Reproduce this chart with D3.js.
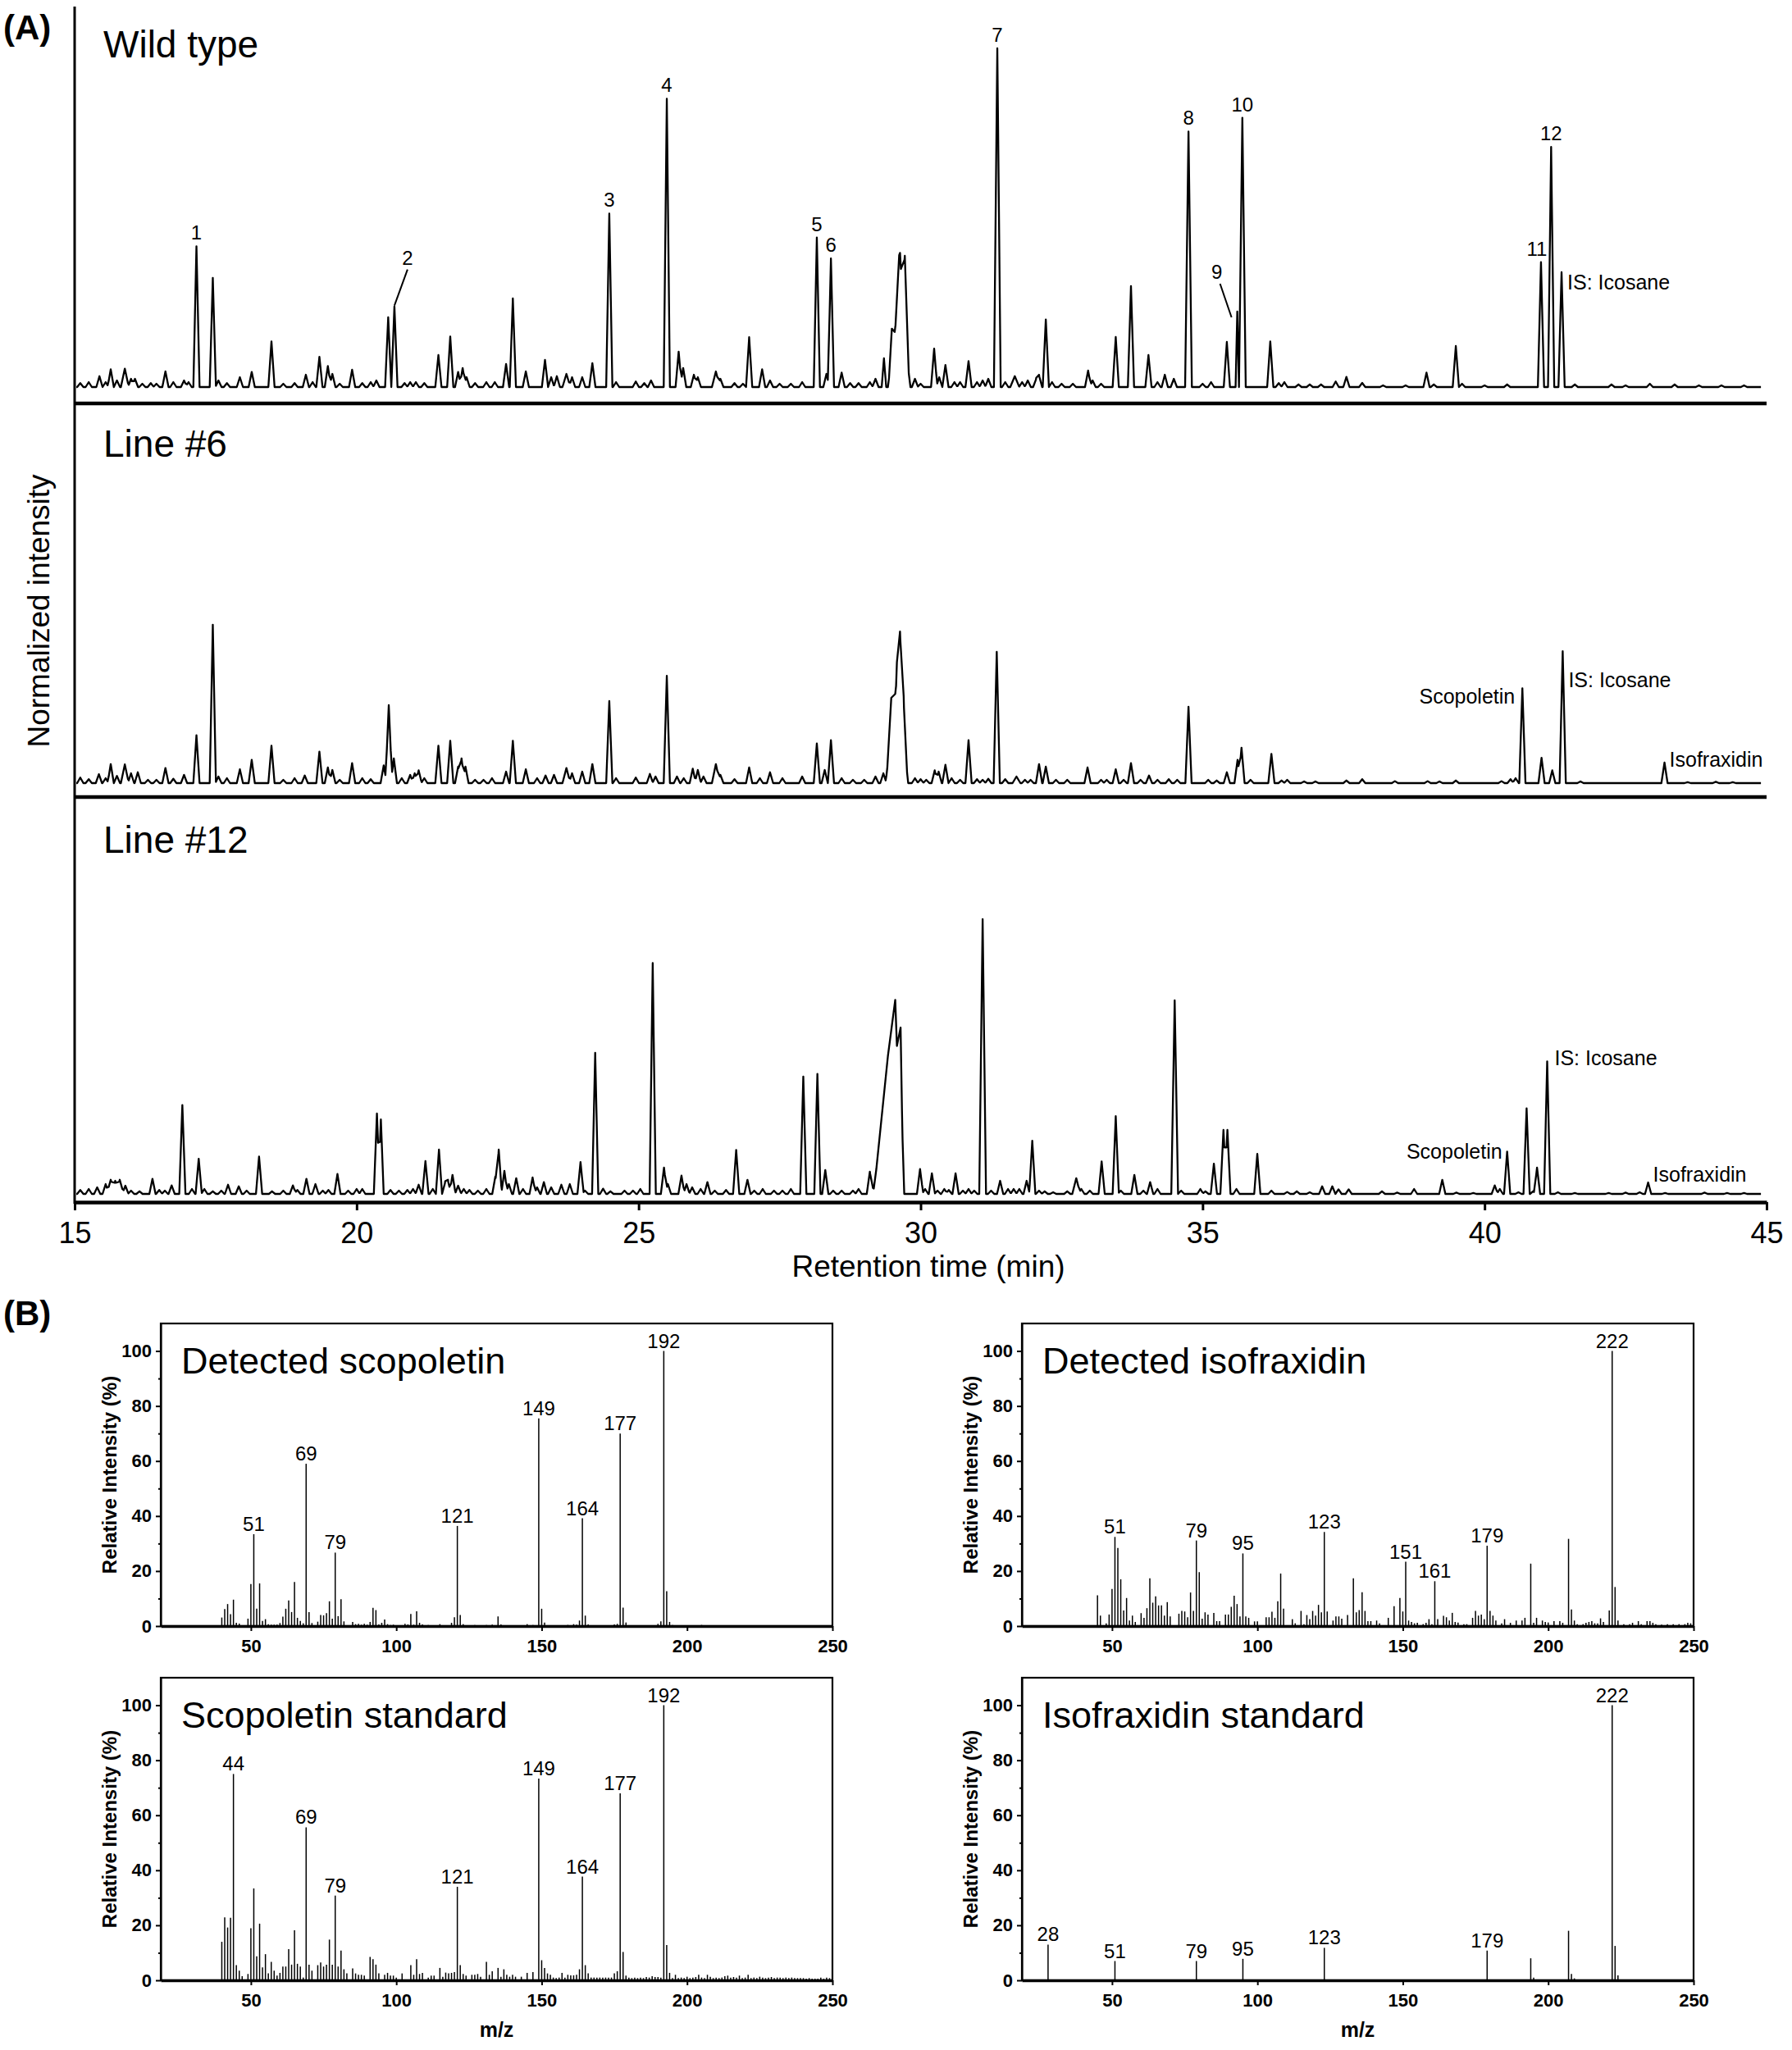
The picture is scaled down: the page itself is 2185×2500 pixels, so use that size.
<!DOCTYPE html>
<html>
<head>
<meta charset="utf-8">
<script src="https://cdn.jsdelivr.net/npm/d3@7"></script>
<style>
  body { margin: 0; background: #fff; }
  svg { display: block; }
</style>
</head>
<body>
<script>
// ---------- data: panel A (GC chromatograms) ----------
// each peak: [retention time (min), height (normalized), half base width (min, optional)]
const rtTicks = [15, 20, 25, 30, 35, 40, 45]

const wildTypePeaks = [
  [15.1, 1.2], [15.25, 1.5], [15.44, 3.3], [15.55, 1.5], [15.64, 5.4], [15.75, 2], [15.89, 5.6, 0.07], [16.0, 2.5], [16.07, 2.5], [16.2, 1], [16.35, 1.2], [16.45, 1], [16.61, 4.75], [16.75, 1.5], [16.94, 2], [17.02, 1.5],
  [17.16, 42.9], [17.45, 33.3], [17.55, 2], [17.7, 1.2], [17.93, 3], [18.14, 4.6], [18.49, 13.9],
  [18.7, 1], [18.9, 1.2], [19.1, 3.75], [19.22, 1.5], [19.34, 9.2], [19.49, 6.4], [19.57, 4], [19.7, 1], [19.92, 5.25],
  [20.1, 1.2], [20.25, 1.5], [20.35, 2], [20.56, 21.25], [20.67, 24.6], [20.85, 1.2], [20.95, 1.5], [21.05, 1.5], [21.2, 1.2],
  [21.45, 9.75], [21.66, 15.4], [21.8, 4.6], [21.88, 5.8], [21.95, 3], [22.1, 1.2], [22.3, 1.5], [22.45, 1.5],
  [22.65, 7], [22.77, 27], [23.0, 4.75], [23.34, 8.3], [23.45, 3], [23.55, 3.3], [23.72, 4, 0.07], [23.82, 3], [24.0, 3], [24.18, 7.25],
  [24.48, 52.9], [24.6, 1.5], [24.95, 1.7], [25.1, 1.2], [25.22, 2], [25.5, 87.9], [25.71, 10.8], [25.79, 5.8], [25.98, 3.75], [26.05, 3], [26.37, 4.75, 0.07], [26.45, 2.5],
  [26.7, 1.2], [26.85, 1], [26.96, 15.2], [27.19, 5.4], [27.33, 2], [27.5, 1], [27.7, 1], [27.9, 1.5],
  [28.16, 45.6], [28.33, 4], [28.41, 39.2], [28.6, 4.4], [28.75, 1.2], [28.9, 1.2], [29.1, 1.5], [29.2, 2.5],
  [29.35, 8.75, 0.04], [29.62, 28, 0.2], [29.49, 8, 0.05], [29.635, 15, 0.08], [29.72, 26, 0.07],
  [29.9, 2.5], [30.0, 1], [30.24, 11.7], [30.33, 3], [30.44, 6.7], [30.6, 1.5], [30.7, 1.5], [30.85, 7.9], [31.0, 1.5], [31.1, 2], [31.2, 2.5],
  [31.36, 103.3, 0.06], [31.5, 1.5], [31.67, 3.3, 0.08], [31.8, 1.5], [31.9, 2], [32.05, 2.5], [32.1, 3.5], [32.22, 20.6], [32.33, 1.5], [32.5, 1], [32.7, 1],
  [32.97, 5], [33.05, 2], [33.2, 1], [33.46, 15.25], [33.73, 30.8], [34.04, 9.75], [34.2, 1.5], [34.33, 3.75], [34.49, 2.5],
  [34.75, 77.9, 0.06], [35.0, 1], [35.15, 1.5], [35.43, 13.75], [35.615, 23, 0.03], [35.705, 82.1, 0.06],
  [36.2, 13.9], [36.35, 1.2], [36.45, 1.5], [36.7, 0.8], [36.9, 0.8], [37.1, 0.8], [37.36, 1.7], [37.55, 3.1], [37.83, 1.25],
  [38.2, 0.5], [38.6, 0.5], [38.97, 4.4], [39.1, 0.8], [39.49, 12.5], [39.6, 1], [40.0, 0.5], [40.4, 0.8],
  [41.0, 38.1], [41.18, 73.2], [41.365, 35], [41.6, 0.8], [42.25, 0.8], [42.5, 0.5], [42.93, 1], [43.37, 0.8], [43.8, 0.5], [44.2, 0.5], [44.6, 0.5]
]

const line6Peaks = [
  [15.1, 1.7], [15.25, 1.2], [15.43, 2.7], [15.55, 1.5], [15.64, 5.8], [15.75, 2.2], [15.89, 5.7, 0.07], [16.0, 3], [16.12, 3.3], [16.3, 1], [16.45, 1], [16.61, 4.6], [16.75, 1.3], [16.94, 2.5],
  [17.16, 14.6], [17.45, 48.3], [17.55, 2], [17.7, 1.5], [17.93, 4.2], [18.14, 7.1], [18.49, 11.4],
  [18.7, 1], [18.9, 1.5], [19.08, 2.3], [19.34, 9.6], [19.49, 4.75], [19.57, 4], [19.7, 1], [19.92, 6.1],
  [20.1, 1.5], [20.25, 1.2], [20.48, 5.4], [20.57, 23.75, 0.06], [20.66, 7.5], [20.8, 1.5], [20.95, 2.5], [21.03, 3], [21.1, 3.9], [21.2, 1.5],
  [21.45, 11.4], [21.66, 12.9], [21.8, 5], [21.86, 7.5], [21.93, 5], [22.1, 1], [22.25, 1], [22.4, 1.5],
  [22.65, 3.5], [22.77, 12.9], [23.0, 4.2], [23.2, 1.5], [23.35, 2.3], [23.5, 2.5], [23.72, 4.6, 0.07], [23.82, 3], [24.0, 3.5], [24.18, 5.8],
  [24.48, 25], [24.6, 1.5], [24.95, 1.7], [25.2, 2.8], [25.3, 2], [25.5, 32.7], [25.68, 2], [25.8, 1.5], [25.96, 4.4], [26.05, 4], [26.15, 2], [26.37, 5.8, 0.07], [26.45, 2.5],
  [26.7, 1.2], [26.96, 4.75], [27.15, 1.5], [27.33, 3.3], [27.55, 1.5], [27.9, 2],
  [28.16, 12.1], [28.3, 4], [28.41, 13.1], [28.6, 1.5], [28.8, 1], [29.0, 1], [29.2, 2], [29.34, 3],
  [29.58, 32, 0.2], [29.635, 23, 0.07], [29.48, 10, 0.07], [29.7, 12, 0.06],
  [29.9, 1.5], [30.0, 1.2], [30.1, 1], [30.25, 3.9], [30.32, 3.5], [30.44, 5.6], [30.55, 1.5], [30.7, 1], [30.85, 13.1], [31.0, 1.2], [31.1, 1], [31.2, 1.3],
  [31.35, 40], [31.5, 1.2], [31.7, 2, 0.07], [31.85, 1], [31.95, 1], [32.1, 5.8], [32.22, 5], [32.4, 1], [32.6, 1],
  [32.96, 4.75], [33.2, 1], [33.3, 1], [33.46, 4.2], [33.6, 1], [33.73, 6.1], [33.9, 1], [34.05, 2.3], [34.2, 1], [34.4, 1.2], [34.55, 1],
  [34.75, 23.3], [35.1, 1], [35.25, 0.8], [35.43, 3.3], [35.62, 7.1], [35.69, 10.8], [35.85, 1], [36.22, 8.9], [36.4, 0.8], [36.5, 1],
  [36.8, 0.5], [37.0, 0.5], [37.55, 0.8], [37.83, 1.2], [38.41, 0.6], [38.99, 0.6], [39.2, 0.5], [39.49, 0.8],
  [40.3, 0.6], [40.46, 1.2], [40.55, 1.5], [40.67, 28.9], [41.01, 7.7], [41.2, 3.9], [41.385, 40.2], [41.7, 0.5],
  [43.19, 6.25], [43.6, 0.3], [44.1, 0.4], [44.4, 0.3]
]

const line12Peaks = [
  [15.1, 1.2], [15.25, 1.5], [15.4, 2], [15.55, 3], [15.64, 4.3, 0.07], [15.72, 4, 0.07], [15.8, 4.3, 0.07], [15.9, 2.5], [16.0, 1], [16.15, 0.8],
  [16.38, 4.6], [16.5, 1.2], [16.6, 1], [16.72, 2.6], [16.91, 27.1], [17.08, 1.5], [17.2, 10.7], [17.3, 1.5], [17.45, 0.8], [17.6, 1], [17.72, 2.8], [17.91, 2.3], [18.05, 1],
  [18.27, 11.4], [18.5, 0.8], [18.7, 1], [18.87, 2.6], [18.95, 1.2], [19.11, 4.6], [19.27, 3], [19.4, 1], [19.5, 1.2], [19.66, 6.1], [19.85, 1], [20.0, 1.5], [20.1, 1.5],
  [20.36, 24.5], [20.43, 22.7, 0.05], [20.6, 1.2], [20.75, 1], [20.9, 1.2], [21.0, 1.5], [21.1, 2.8],
  [21.22, 10], [21.35, 1.5], [21.46, 13.5], [21.57, 3.5], [21.62, 4], [21.7, 5.8], [21.8, 2.5], [21.9, 1.5], [22.0, 1.2], [22.15, 1], [22.3, 1.5],
  [22.46, 5.3], [22.52, 13.5], [22.62, 7], [22.7, 3], [22.83, 4.8], [22.95, 1.5], [23.12, 5], [23.2, 2], [23.32, 3.6], [23.45, 2], [23.63, 2.8], [23.78, 3],
  [23.97, 9.7], [24.05, 1], [24.23, 43], [24.37, 1.6], [24.5, 0.8], [24.75, 1], [24.9, 1], [25.03, 1.5],
  [25.25, 70.4], [25.45, 8], [25.52, 3], [25.76, 5.6], [25.85, 3], [25.95, 2], [26.1, 1.5], [26.22, 3.6], [26.35, 1], [26.55, 1.2],
  [26.73, 13.4], [26.93, 4.3], [27.05, 1], [27.2, 1.5], [27.4, 1], [27.55, 1], [27.7, 1.5],
  [27.92, 35.8], [28.17, 36.6], [28.31, 7.3], [28.45, 1], [28.6, 1], [28.8, 1], [28.9, 1.5], [29.1, 6.8], [29.16, 2],
  [29.42, 42, 0.25], [29.55, 39, 0.13], [29.645, 36, 0.065],
  [29.99, 7.6], [30.08, 1.5], [30.2, 6.3], [30.3, 1], [30.42, 1.5], [30.5, 1.2], [30.62, 6.3], [30.75, 1], [30.85, 1.5], [30.95, 1],
  [31.1, 83.8, 0.06], [31.25, 1], [31.41, 4], [31.55, 1.5], [31.65, 1.5], [31.75, 1.5], [31.88, 4], [31.98, 16.2], [32.1, 1], [32.2, 0.8], [32.35, 0.5], [32.6, 0.8],
  [32.76, 4.8, 0.07], [32.85, 1.5], [33.0, 1], [33.21, 9.9], [33.46, 23.7], [33.55, 1], [33.79, 5.8], [33.95, 1], [34.07, 3.6], [34.2, 1.5],
  [34.505, 59, 0.06], [34.62, 1], [34.96, 1.5], [35.05, 0.8], [35.2, 9.2], [35.37, 19.5], [35.44, 19.5], [35.6, 1.5], [35.97, 12.2],
  [36.22, 1], [36.5, 0.6], [36.67, 0.8], [36.9, 0.5], [37.12, 2.3], [37.3, 2.3], [37.41, 1.4], [37.59, 1.4], [38.18, 0.8], [38.45, 0.4], [38.75, 1.5],
  [39.25, 4.3], [39.5, 0.4], [39.8, 0.3], [40.18, 2.6], [40.27, 1.5], [40.4, 12.9], [40.6, 0.5], [40.745, 26.1], [40.86, 0.8], [40.93, 8], [41.11, 40.4],
  [41.3, 0.5], [41.6, 0.3], [42.2, 0.3], [42.5, 0.4], [42.75, 0.5], [42.9, 3.5], [43.2, 0.3], [43.9, 0.4], [44.3, 0.3], [44.6, 0.3]
]

// annotation text and the retention time of the peak it marks
const wildTypeLabels = [['1', 17.16], ['2', 20.67], ['3', 24.48], ['4', 25.5], ['5', 28.16], ['6', 28.41], ['7', 31.36],
  ['8', 34.75], ['9', 35.615], ['10', 35.705], ['11', 41.0], ['12', 41.18], ['IS: Icosane', 41.365]]
const line6Labels = [['Scopoletin', 40.67], ['IS: Icosane', 41.385], ['Isofraxidin', 43.19]]
const line12Labels = [['Scopoletin', 40.4], ['IS: Icosane', 41.11], ['Isofraxidin', 42.9]]

// ---------- data: panel B (mass spectra) [m/z, relative intensity %] ----------
const mzTicks = [50, 100, 150, 200, 250]
const intensityTicks = [0, 20, 40, 60, 80, 100]
const intensityMinorTicks = [10, 30, 50, 70, 90]

const detectedScopoletin = [[40, 3.1], [41, 6.2], [42, 8], [43, 4.3], [44, 9.6], [45, 1.2], [46, 0.9], [47, 0.3], [48, 0.3], [49, 2.7], [50, 15.3], [51, 33.4], [52, 6.3], [53, 15.5], [54, 1.9], [55, 2.5], [56, 0.7], [57, 0.5], [58, 0.5], [59, 0.5], [60, 1.1],
  [61, 3.4], [62, 6.3], [63, 9.3], [64, 5.1], [65, 16], [66, 3], [67, 1.9], [68, 1], [69, 59], [70, 5.1], [71, 1.1], [73, 1.6], [74, 4], [75, 3.9], [76, 4.7], [77, 9], [78, 2.7], [79, 26.7], [80, 3.6], [81, 9.8], [82, 1.7],
  [85, 1.5], [86, 0.7], [87, 0.8], [88, 0.5], [89, 0.8], [90, 0.5], [91, 1.5], [92, 6.6], [93, 5.8], [94, 0.6], [95, 1.2], [96, 2.4], [97, 0.7], [98, 0.4], [99, 0.5], [100, 0.3], [103, 0.8], [104, 0.6], [105, 4.4], [106, 0.5], [107, 5.4], [108, 1.2], [109, 0.6],
  [111, 0.4], [113, 0.3], [115, 0.7], [117, 0.3], [119, 1.2], [120, 3.2], [121, 36.4], [122, 4], [123, 0.7], [125, 0.3], [127, 0.4], [129, 0.3], [131, 0.4], [133, 0.5], [135, 3.5], [136, 0.6], [140, 0.3], [143, 0.3], [145, 0.7], [147, 0.4],
  [149, 75.5], [150, 6.3], [151, 1.3], [153, 0.3], [156, 0.3], [159, 0.4], [161, 0.7], [162, 0.5], [163, 2], [164, 39.2], [165, 3.8], [166, 0.6], [170, 0.3], [173, 0.3], [175, 0.6], [176, 0.8], [177, 70], [178, 6.7], [179, 1.3], [182, 0.3], [185, 0.3],
  [190, 0.8], [191, 1.7], [192, 100], [193, 12.7], [194, 1.5], [195, 0.4], [198, 0.3], [202, 0.3], [205, 0.4], [208, 0.3], [212, 0.3], [216, 0.3], [220, 0.3], [225, 0.3], [230, 0.2], [236, 0.2], [242, 0.2], [248, 0.2]]

const detectedIsofraxidin = [[45, 11.2], [46, 3.8], [48, 1], [49, 4.2], [50, 13.5], [51, 32.4], [52, 28.4], [53, 17], [54, 5.7], [55, 10.2], [56, 2], [57, 3.8], [58, 1.5], [60, 4.7], [61, 3], [62, 6.5], [63, 17.4], [64, 8.5], [65, 10.8], [66, 7.5], [67, 7.5], [68, 3.8], [69, 8.7], [70, 3.5],
  [73, 4.5], [74, 5.5], [75, 5.3], [76, 3.2], [77, 12.2], [78, 5.5], [79, 31.1], [80, 19.6], [81, 2.7], [82, 5], [83, 4.2], [85, 4.8], [86, 1.8], [87, 1.8], [89, 4.2], [90, 4.2], [91, 7], [92, 11], [93, 8], [94, 3.5], [95, 26.4], [96, 3.5], [97, 3], [99, 1.7], [100, 1.7],
  [103, 3.2], [104, 3.2], [105, 5.2], [106, 3], [107, 9], [108, 19.1], [109, 6.3], [112, 2.5], [113, 1], [115, 5.5], [116, 0.7], [117, 4], [118, 2.5], [119, 5.5], [120, 3.8], [121, 7.7], [122, 5], [123, 34.2], [124, 5.3], [126, 2], [127, 3.5], [128, 3.5], [129, 2.7],
  [131, 4], [133, 17.4], [134, 5], [135, 5.8], [136, 12.3], [137, 5.5], [138, 1.8], [139, 1.8], [141, 2], [142, 1], [145, 3], [147, 7.2], [149, 10.2], [150, 5.3], [151, 23.4], [152, 2], [153, 1.5], [154, 1], [155, 1.2], [157, 0.7], [158, 1.2], [159, 2.5], [160, 0.7],
  [161, 16.3], [162, 2.5], [164, 3.7], [165, 3.2], [166, 2], [167, 4.8], [168, 1.5], [169, 1.3], [171, 0.7], [172, 0.7], [174, 3], [175, 5.5], [176, 3.8], [177, 4.2], [178, 2.5], [179, 29.2], [180, 5.5], [181, 3.8], [182, 2], [184, 1], [185, 2.5], [187, 1.2],
  [189, 2], [191, 2], [192, 3], [194, 22.7], [195, 1.2], [196, 3], [198, 2], [199, 1.5], [200, 1.3], [202, 1.8], [204, 1.8], [205, 1.2], [207, 31.7], [208, 6], [209, 2], [210, 0.7], [212, 0.7], [213, 1.2], [214, 1.5], [215, 1.8], [216, 1], [217, 1], [218, 2.8], [219, 1.5],
  [221, 5.7], [222, 100], [223, 14.2], [224, 2], [226, 0.7], [228, 0.7], [229, 1.2], [231, 1.8], [232, 0.7], [234, 1.8], [235, 1.8], [236, 1.2], [237, 0.7], [239, 0.5], [241, 0.7], [243, 0.7], [245, 0.7], [247, 0.7], [248, 1.2], [249, 1]]

const scopoletinStandard = [[40, 14], [41, 22.9], [42, 19.2], [43, 22.7], [44, 75], [45, 5.5], [46, 3.5], [47, 1.5], [49, 2.3], [50, 18.9], [51, 33.4], [52, 8.7], [53, 20.6], [54, 4.7], [55, 9.5], [56, 2.5], [57, 6.7], [58, 3.5], [59, 1.7], [60, 2.7],
  [61, 5], [62, 5], [63, 11.3], [64, 5.7], [65, 18.2], [66, 6], [67, 5], [68, 1], [69, 55.6], [70, 5.7], [71, 3.5], [73, 5.5], [74, 6.5], [75, 5], [76, 5.7], [77, 14.8], [78, 5.7], [79, 30.8], [80, 5], [81, 10.8], [82, 4], [83, 2.5],
  [85, 4.3], [86, 2.5], [87, 2], [88, 2], [89, 1.7], [91, 8.5], [92, 7.7], [93, 5.7], [94, 2.5], [96, 2], [97, 2.7], [98, 1.7], [99, 1.7], [100, 1], [102, 2.5], [105, 5.5], [106, 2], [107, 7.7], [108, 2.3], [109, 2.7], [111, 1], [112, 1.7], [113, 1.7],
  [115, 4.5], [116, 1.3], [117, 2.8], [118, 2.5], [119, 2.7], [120, 3], [121, 34], [122, 5.5], [123, 2.3], [124, 1.7], [126, 2], [127, 2], [128, 2.3], [129, 1.3], [131, 6.7], [132, 2], [133, 3.3], [135, 4.5], [136, 1.3], [137, 4], [138, 2], [139, 1.3],
  [140, 2], [141, 1.3], [143, 1.3], [145, 2.7], [147, 3], [149, 73.3], [150, 7.3], [151, 4.5], [152, 2.5], [153, 2], [154, 1], [155, 0.8], [156, 1], [157, 2.7], [158, 1], [159, 2], [160, 1.8], [161, 1.8], [162, 2], [163, 4], [164, 37.7], [165, 5.5], [166, 2.5],
  [167, 1], [168, 1], [169, 1], [170, 1], [171, 1], [172, 1], [173, 1], [174, 1], [175, 2.5], [176, 3.3], [177, 68], [178, 10.3], [179, 1.7], [180, 1], [181, 0.8], [182, 1], [183, 0.8], [184, 1], [185, 0.8], [186, 1.2], [187, 1], [188, 1.5], [189, 1.2], [190, 1.2], [191, 1],
  [192, 100], [193, 12.8], [194, 2.7], [195, 0.8], [196, 2], [197, 0.8], [198, 1], [199, 0.8], [200, 1.3], [201, 0.8], [202, 1], [203, 1.2], [204, 2], [205, 1], [206, 0.8], [207, 2], [208, 1.3], [209, 0.8], [210, 1], [211, 0.8], [212, 1], [213, 1.5], [214, 1.7],
  [215, 1], [216, 1.2], [217, 1], [218, 1.7], [219, 0.8], [220, 1], [221, 2], [222, 0.8], [223, 1], [224, 0.8], [225, 1.3], [226, 1], [227, 0.8], [228, 1], [229, 1.2], [230, 0.8], [231, 1], [232, 1], [233, 0.8], [234, 1], [235, 0.8], [236, 1], [237, 0.8],
  [238, 0.8], [239, 0.8], [240, 0.8], [241, 0.6], [242, 0.8], [243, 0.6], [244, 0.6], [245, 0.6], [246, 1], [247, 0.6], [248, 1], [249, 0.8]]

const isofraxidinStandard = [[28, 13], [51, 7], [79, 7], [95, 7.8], [123, 11.8], [179, 10.8], [194, 8], [195, 1], [207, 18], [208, 2.3], [209, 0.7], [222, 100], [223, 12.5], [224, 1.8]]

const detectedScopoletinLabels = [51, 69, 79, 121, 149, 164, 177, 192]
const detectedIsofraxidinLabels = [51, 79, 95, 123, 151, 161, 179, 222]
const scopoletinStandardLabels = [44, 69, 79, 121, 149, 164, 177, 192]
const isofraxidinStandardLabels = [28, 51, 79, 95, 123, 179, 222]

// ---------- drawing ----------
const font = '"Liberation Sans", Arial, Helvetica, sans-serif'
const W = 2185
const H = 2500

const svg = d3.select('body').append('svg')
  .attr('width', W)
  .attr('height', H)
  .attr('viewBox', `0 0 ${W} ${H}`)
  .style('font-family', font)

const defaultHalfWidth = 0.055
const rtStart = 15.03
const rtEnd = 44.9

// height of a set of triangular peaks at time t
const intensityAt = (peaks, t) => d3.sum(peaks, ([t0, h, w = defaultHalfWidth]) =>
  Math.max(0, h * (1 - Math.abs(t - t0) / w)))

// the trace is piecewise linear, so evaluating it at every peak vertex is exact
const tracePoints = (peaks) => {
  const ts = new Set([rtStart, rtEnd])
  peaks.forEach(([t0, , w = defaultHalfWidth]) => { ts.add(t0 - w); ts.add(t0); ts.add(t0 + w) })
  return [...ts].filter(t => t >= rtStart && t <= rtEnd)
    .sort((a, b) => a - b)
    .map(t => [t, intensityAt(peaks, t)])
}

const rtScale = d3.scaleLinear().domain([15, 45]).range([91, 2154])

const chromPanels = [
  {
    name: 'Wild type', peaks: wildTypePeaks, labels: wildTypeLabels, base: 472, bottom: 492, titleY: 70,
    style: {
      '2': { dx: 16, dy: -51, leader: [[16, -45], [0, -1]] },
      '9': { dx: -25, dy: -40, leader: [[-21, -34], [-7, 7]] },
      '11': { dx: -5 },
      'IS: Icosane': { dx: 7, dy: 21, anchor: 'start', size: 25 }
    }
  },
  {
    name: 'Line #6', peaks: line6Peaks, labels: line6Labels, base: 955, bottom: 972, titleY: 557,
    style: {
      'Scopoletin': { dx: -9, dy: 19, anchor: 'end', size: 25 },
      'IS: Icosane': { dx: 7, dy: 44, anchor: 'start', size: 25 },
      'Isofraxidin': { dx: 6, dy: 5, anchor: 'start', size: 25 }
    }
  },
  {
    name: 'Line #12', peaks: line12Peaks, labels: line12Labels, base: 1456, bottom: 1466, titleY: 1040,
    style: {
      'Scopoletin': { dx: -6, dy: 9, anchor: 'end', size: 25 },
      'IS: Icosane': { dx: 9, dy: 5, anchor: 'start', size: 25 },
      'Isofraxidin': { dx: 6, dy: -1, anchor: 'start', size: 25 }
    }
  }
]

const gA = svg.append('g')

gA.append('text')
  .attr('x', 4).attr('y', 48)
  .attr('font-size', 42).attr('font-weight', 'bold')
  .text('(A)')

chromPanels.forEach(p => {
  const y = d3.scaleLinear().domain([0, 100]).range([p.base, p.base - 400])
  const g = gA.append('g')

  g.append('path')
    .datum(tracePoints(p.peaks))
    .attr('fill', 'none')
    .attr('stroke', '#000')
    .attr('stroke-width', 2.3)
    .attr('stroke-linejoin', 'round')
    .attr('d', d3.line().x(d => rtScale(d[0])).y(d => y(d[1])))

  g.append('text')
    .attr('x', 126).attr('y', p.titleY)
    .attr('font-size', 46)
    .text(p.name)

  p.labels.forEach(([text, rt]) => {
    const s = Object.assign({ dx: 0, dy: -8, anchor: 'middle', size: 24 }, p.style[text] || {})
    const px = rtScale(rt)
    const py = y(intensityAt(p.peaks, rt))
    g.append('text')
      .attr('x', px + s.dx).attr('y', py + s.dy)
      .attr('text-anchor', s.anchor)
      .attr('font-size', s.size)
      .text(text)
    if (s.leader) {
      g.append('line')
        .attr('x1', px + s.leader[0][0]).attr('y1', py + s.leader[0][1])
        .attr('x2', px + s.leader[1][0]).attr('y2', py + s.leader[1][1])
        .attr('stroke', '#000').attr('stroke-width', 2)
    }
  })

  // panel separators
  if (p !== chromPanels[chromPanels.length - 1]) {
    g.append('line')
      .attr('x1', rtScale.range()[0]).attr('x2', rtScale.range()[1])
      .attr('y1', p.bottom).attr('y2', p.bottom)
      .attr('stroke', '#000').attr('stroke-width', 4.5)
  }
})

// left (intensity) axis line
gA.append('line')
  .attr('x1', 91).attr('x2', 91)
  .attr('y1', 8).attr('y2', 1468)
  .attr('stroke', '#000').attr('stroke-width', 3)

// retention time axis
const xAxisA = gA.append('g')
  .attr('transform', 'translate(0,1466)')
  .call(d3.axisBottom(rtScale).tickValues(rtTicks).tickSize(10).tickSizeOuter(0).tickPadding(14))
xAxisA.select('.domain').attr('stroke-width', 4.5)
xAxisA.selectAll('.tick line').attr('stroke-width', 3)
xAxisA.selectAll('.tick text').attr('font-size', 36).attr('font-family', font)

gA.append('text')
  .attr('x', 1132).attr('y', 1557)
  .attr('text-anchor', 'middle')
  .attr('font-size', 37)
  .text('Retention time (min)')

gA.append('text')
  .attr('transform', 'translate(60,745) rotate(-90)')
  .attr('text-anchor', 'middle')
  .attr('font-size', 37)
  .text('Normalized intensity')

// ---------- panel B ----------
const gB = svg.append('g')

gB.append('text')
  .attr('x', 4).attr('y', 1616)
  .attr('font-size', 42).attr('font-weight', 'bold')
  .text('(B)')

const specW = 819
const specH = 369
const spectra = [
  { title: 'Detected scopoletin', data: detectedScopoletin, labels: detectedScopoletinLabels, x0: 196, y0: 1614, mzLabel: false },
  { title: 'Detected isofraxidin', data: detectedIsofraxidin, labels: detectedIsofraxidinLabels, x0: 1246, y0: 1614, mzLabel: false },
  { title: 'Scopoletin standard', data: scopoletinStandard, labels: scopoletinStandardLabels, x0: 196, y0: 2046, mzLabel: true },
  { title: 'Isofraxidin standard', data: isofraxidinStandard, labels: isofraxidinStandardLabels, x0: 1246, y0: 2046, mzLabel: true }
]

spectra.forEach(s => {
  const x = d3.scaleLinear().domain([19, 250]).range([s.x0, s.x0 + specW])
  const y = d3.scaleLinear().domain([0, 110]).range([s.y0 + specH, s.y0])
  const g = gB.append('g')

  g.append('rect')
    .attr('x', s.x0).attr('y', s.y0)
    .attr('width', specW).attr('height', specH)
    .attr('fill', 'none').attr('stroke', '#000').attr('stroke-width', 2.2)

  g.selectAll('line.bar')
    .data(s.data)
    .join('line')
    .attr('class', 'bar')
    .attr('x1', d => x(d[0])).attr('x2', d => x(d[0]))
    .attr('y1', y(0)).attr('y2', d => y(d[1]))
    .attr('stroke', '#000').attr('stroke-width', 1.5)

  const lookup = new Map(s.data)
  g.selectAll('text.peak')
    .data(s.labels)
    .join('text')
    .attr('class', 'peak')
    .attr('x', d => x(d))
    .attr('y', d => y(lookup.get(d)) - 4)
    .attr('text-anchor', 'middle')
    .attr('font-size', 24)
    .text(d => d)

  g.append('text')
    .attr('x', s.x0 + 25).attr('y', s.y0 + 61)
    .attr('font-size', 45)
    .text(s.title)

  const ya = g.append('g')
    .attr('transform', `translate(${s.x0},0)`)
    .call(d3.axisLeft(y).tickValues(intensityTicks).tickSize(6).tickSizeOuter(0).tickPadding(5).tickFormat(d3.format('d')))
  ya.select('.domain').attr('stroke-width', 2.2)
  ya.selectAll('.tick line').attr('stroke-width', 2)
  ya.selectAll('.tick text').attr('font-size', 22).attr('font-weight', 'bold').attr('font-family', font)

  g.append('g')
    .attr('transform', `translate(${s.x0},0)`)
    .call(d3.axisLeft(y).tickValues(intensityMinorTicks).tickSize(3).tickSizeOuter(0).tickFormat(''))
    .call(a => a.select('.domain').remove())
    .selectAll('.tick line').attr('stroke-width', 2)

  const xa = g.append('g')
    .attr('transform', `translate(0,${s.y0 + specH})`)
    .call(d3.axisBottom(x).tickValues(mzTicks).tickSize(6).tickSizeOuter(0).tickPadding(10))
  xa.select('.domain').attr('stroke-width', 3.5)
  xa.selectAll('.tick line').attr('stroke-width', 2)
  xa.selectAll('.tick text').attr('font-size', 22).attr('font-weight', 'bold').attr('font-family', font)

  g.append('text')
    .attr('transform', `translate(${s.x0 - 54},${s.y0 + specH / 2}) rotate(-90)`)
    .attr('text-anchor', 'middle')
    .attr('font-size', 24).attr('font-weight', 'bold')
    .text('Relative Intensity (%)')

  if (s.mzLabel) {
    g.append('text')
      .attr('x', s.x0 + specW / 2).attr('y', s.y0 + specH + 69)
      .attr('text-anchor', 'middle')
      .attr('font-size', 25).attr('font-weight', 'bold')
      .text('m/z')
  }
})
</script>
</body>
</html>
